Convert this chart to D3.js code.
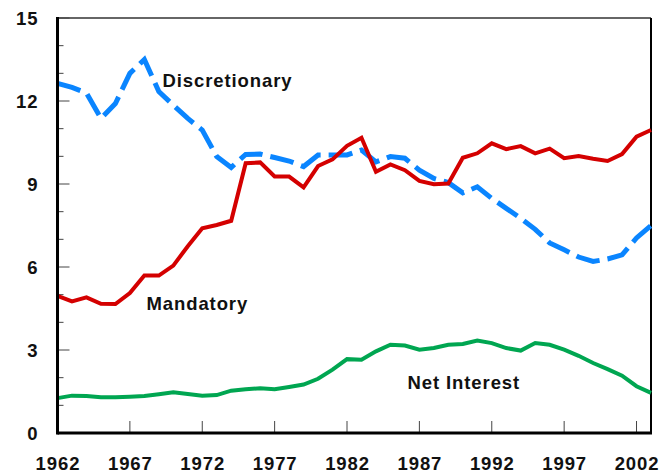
<!DOCTYPE html>
<html>
<head>
<meta charset="utf-8">
<script src="https://cdn.jsdelivr.net/npm/d3@7"></script>
<style>
	body { margin: 0; background: #fff; }
	text { font-family: "Liberation Sans", Arial, sans-serif; font-weight: bold; font-size: 18.5px; letter-spacing: 0.9px; fill: #111; }
</style>
</head>
<body>
<div id="chart"></div>
<script>

// years shown on the chart
var years = d3.range(1962, 2004);

// outlays as percent of GDP
var discretionary = [12.64, 12.49, 12.29, 11.37, 11.91, 13.0, 13.5, 12.34, 11.85, 11.37,
                     10.95, 9.99, 9.6, 10.07, 10.08, 9.96, 9.83, 9.63, 10.05, 10.05,
                     10.05, 10.23, 9.8, 9.99, 9.93, 9.5, 9.2, 9.05, 8.68, 8.9,
                     8.48, 8.12, 7.76, 7.36, 6.87, 6.62, 6.36, 6.2, 6.29, 6.44,
                     7.05, 7.5];
var mandatory     = [4.96, 4.76, 4.9, 4.67, 4.66, 5.06, 5.69, 5.69, 6.05, 6.75,
                     7.4, 7.52, 7.67, 9.75, 9.78, 9.27, 9.27, 8.88, 9.65, 9.89,
                     10.38, 10.67, 9.44, 9.71, 9.5, 9.11, 8.99, 9.02, 9.95, 10.11,
                     10.47, 10.26, 10.37, 10.11, 10.28, 9.93, 10.01, 9.91, 9.83, 10.08,
                     10.71, 10.95];
var netInterest   = [1.26, 1.35, 1.34, 1.29, 1.29, 1.31, 1.34, 1.4, 1.47, 1.41,
                     1.35, 1.37, 1.53, 1.58, 1.62, 1.58, 1.66, 1.75, 1.96, 2.29,
                     2.67, 2.65, 2.95, 3.19, 3.16, 3.01, 3.07, 3.19, 3.22, 3.34,
                     3.25, 3.07, 2.98, 3.25, 3.19, 3.01, 2.79, 2.53, 2.31, 2.07,
                     1.69, 1.45];

var yTicks = [0, 3, 6, 9, 12, 15];
var xTicks = [1962, 1967, 1972, 1977, 1982, 1987, 1992, 1997, 2002];

var width      = 668,
    height     = 473,
    plotLeft   = 57.5,
    plotRight  = 651,
    plotTop    = 18,
    plotBottom = 433;

var x = d3.scaleLinear().domain([1962, 2003]).range([plotLeft, plotRight]);
var y = d3.scaleLinear().domain([0, 15]).range([plotBottom, plotTop]);

var svg = d3.select('#chart')
	.append('svg')
	.attr('width', width)
	.attr('height', height);

// frame
svg.append('line')
	.attr('x1', plotLeft).attr('x2', plotRight)
	.attr('y1', plotTop).attr('y2', plotTop)
	.attr('stroke', '#333').attr('stroke-width', 1.5);
svg.append('line')
	.attr('x1', plotRight).attr('x2', plotRight)
	.attr('y1', plotTop).attr('y2', plotBottom)
	.attr('stroke', '#000').attr('stroke-width', 2);

// y ticks, major and minor, drawn inward
svg.append('g')
	.selectAll('line')
	.data(d3.range(0, 16))
	.enter()
	.append('line')
	.attr('x1', plotLeft)
	.attr('x2', function(d){ return plotLeft + (d % 3 === 0 ? 12 : 6); })
	.attr('y1', function(d){ return y(d); })
	.attr('y2', function(d){ return y(d); })
	.attr('stroke', '#444');

svg.append('g')
	.selectAll('text')
	.data(yTicks)
	.enter()
	.append('text')
	.attr('x', 38.5)
	.attr('y', function(d){ return y(d) + 6.5; })
	.attr('text-anchor', 'end')
	.text(function(d){ return d; });

// x ticks, drawn upward
svg.append('g')
	.selectAll('line')
	.data(xTicks)
	.enter()
	.append('line')
	.attr('x1', function(d){ return x(d); })
	.attr('x2', function(d){ return x(d); })
	.attr('y1', plotBottom)
	.attr('y2', plotBottom - 12)
	.attr('stroke', '#444');

svg.append('g')
	.selectAll('text')
	.data(xTicks)
	.enter()
	.append('text')
	.attr('x', function(d){ return x(d) + 0.5; })
	.attr('y', 470)
	.attr('text-anchor', 'middle')
	.text(function(d){ return d; });

// series lines
var line = d3.line()
	.x(function(d){ return x(d[0]); })
	.y(function(d){ return y(d[1]); });

function series(values){
	return years.map(function(yr, i){ return [yr, values[i]]; });
}

svg.append('path')
	.datum(series(netInterest))
	.attr('d', line)
	.attr('fill', 'none')
	.attr('stroke', '#00a651')
	.attr('stroke-width', 4);

svg.append('path')
	.datum(series(discretionary))
	.attr('d', line)
	.attr('fill', 'none')
	.attr('stroke', '#0a85ff')
	.attr('stroke-width', 5)
	.attr('stroke-dasharray', '24,8');

svg.append('path')
	.datum(series(mandatory))
	.attr('d', line)
	.attr('fill', 'none')
	.attr('stroke', '#d40000')
	.attr('stroke-width', 4);

// axes on top
svg.append('line')
	.attr('x1', plotLeft).attr('x2', plotLeft)
	.attr('y1', plotTop - 1).attr('y2', plotBottom + 1.5)
	.attr('stroke', '#000').attr('stroke-width', 3);
svg.append('line')
	.attr('x1', plotLeft).attr('x2', plotRight + 1)
	.attr('y1', plotBottom).attr('y2', plotBottom)
	.attr('stroke', '#000').attr('stroke-width', 3);

// series labels
var labels = [
	{ name: 'Discretionary', x: 162.5, y: 86.5 },
	{ name: 'Mandatory', x: 146.5, y: 310 },
	{ name: 'Net Interest', x: 407.5, y: 388.5 }
];

svg.append('g')
	.selectAll('text')
	.data(labels)
	.enter()
	.append('text')
	.attr('x', function(d){ return d.x; })
	.attr('y', function(d){ return d.y; })
	.text(function(d){ return d.name; });

</script>
</body>
</html>
